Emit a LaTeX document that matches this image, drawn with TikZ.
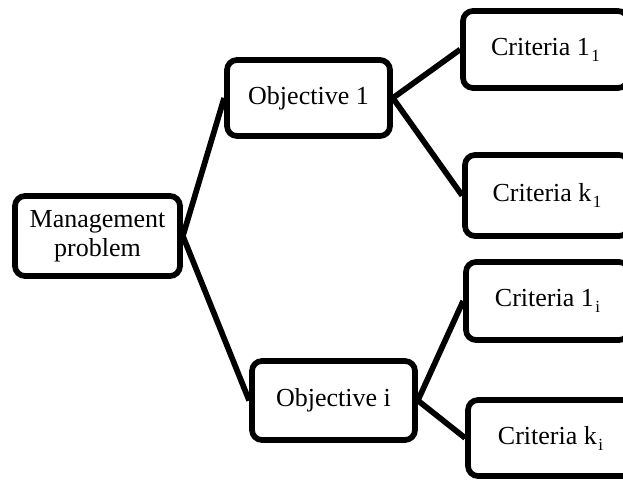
\documentclass[tikz,border=0pt]{standalone}
\usepackage{fontspec}
\setmainfont{Liberation Serif}
\newcommand{\lowsub}[1]{\kern1.5pt\raisebox{-6pt}{\fontsize{17}{17}\selectfont #1}}
\begin{document}
\begin{tikzpicture}[x=1pt,y=-1pt,
  box/.style={draw=black, line width=5.7pt, rounded corners=10pt, fill=white,
    inner sep=2pt, align=center, font=\fontsize{26}{29}\selectfont},
  link/.style={draw=black, line width=5.7pt}]
\useasboundingbox (0,0) rectangle (623,484);
\clip (0,0) rectangle (623,484);
\node[box, minimum width=165pt, minimum height=80pt] (mp) at (97.5,236) {Management\\problem};
\node[box, minimum width=163pt, minimum height=76pt] (o1) at (308.5,98) {Objective 1};
\node[box, minimum width=163pt, minimum height=79pt] (oi) at (333.5,400.5) {Objective i};
\node[box, minimum width=165pt, minimum height=77pt] (c11) at (545.5,49.5) {Criteria 1\lowsub{1}};
\node[box, minimum width=164pt, minimum height=81pt] (ck1) at (547,195.5) {Criteria k\lowsub{1}};
\node[box, minimum width=163pt, minimum height=78pt] (c1i) at (547.5,301) {Criteria 1\lowsub{i}};
\node[box, minimum width=165pt, minimum height=76pt] (cki) at (550.5,438) {Criteria k\lowsub{i}};
\draw[link] (mp.east) -- (o1.west);
\draw[link] (mp.east) -- (oi.west);
\draw[link] (o1.east) -- (c11.west);
\draw[link] (o1.east) -- (ck1.west);
\draw[link] (oi.east) -- (c1i.west);
\draw[link] (oi.east) -- (cki.west);
\end{tikzpicture}
\end{document}
